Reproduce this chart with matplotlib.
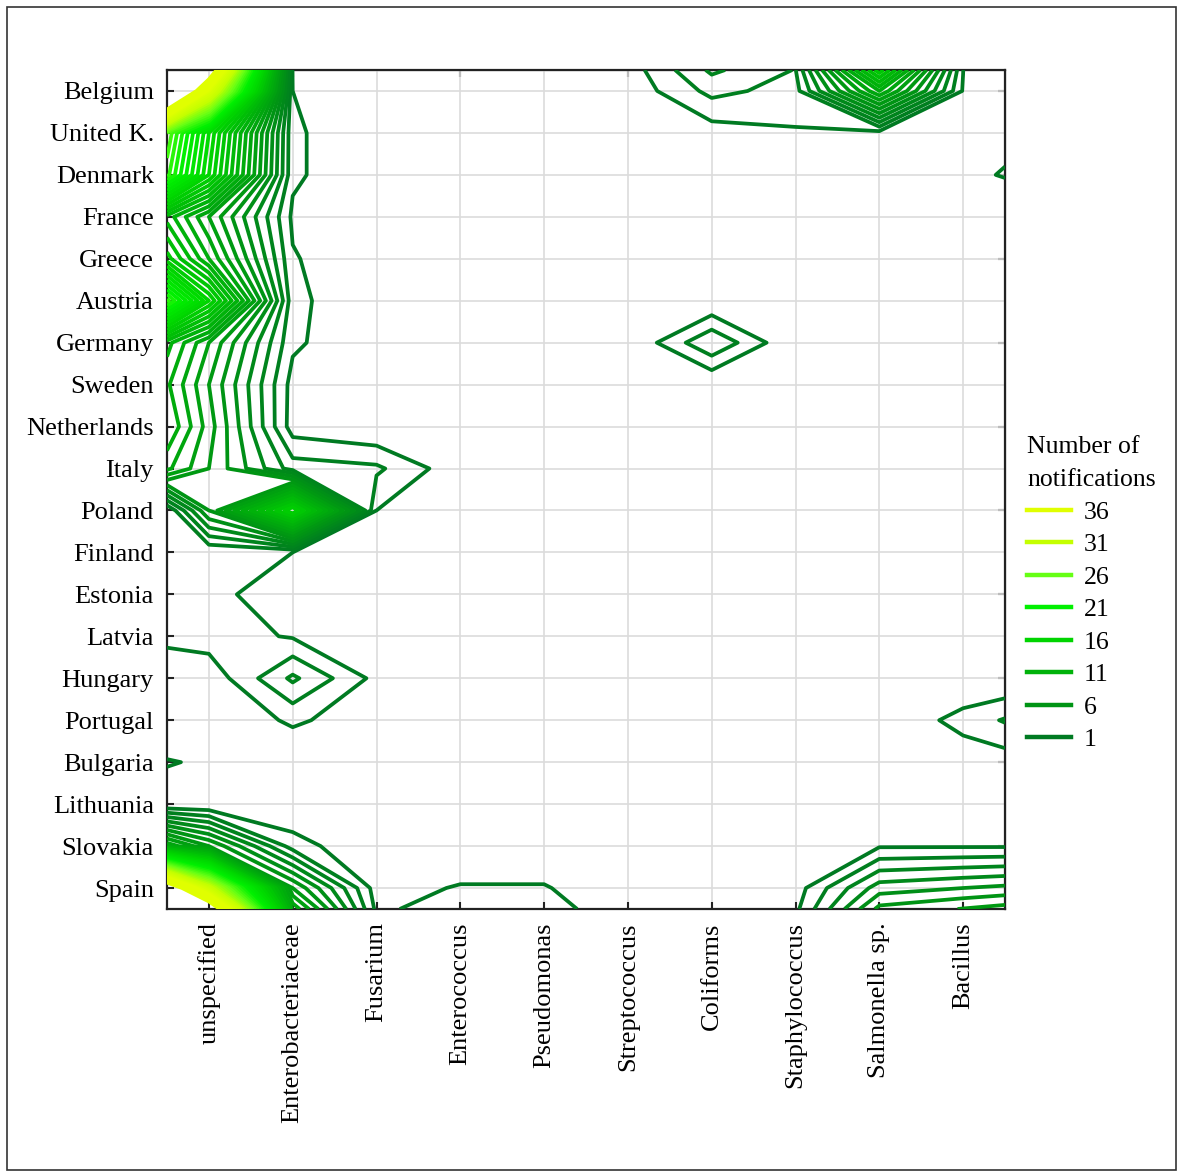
import numpy as np
import matplotlib.pyplot as plt
from matplotlib.colors import LinearSegmentedColormap, Normalize
from matplotlib.lines import Line2D
from matplotlib.patches import Rectangle

plt.rcParams['font.family'] = ['Liberation Serif', 'DejaVu Serif']

countries = ['Belgium', 'United K.', 'Denmark', 'France', 'Greece', 'Austria',
             'Germany', 'Sweden', 'Netherlands', 'Italy', 'Poland', 'Finland',
             'Estonia', 'Latvia', 'Hungary', 'Portugal', 'Bulgaria', 'Lithuania',
             'Slovakia', 'Spain']
hazards = ['unspecified', 'Enterobacteriaceae', 'Fusarium', 'Enterococcus',
           'Pseudomonas', 'Streptococcus', 'Coliforms', 'Staphylococcus',
           'Salmonella sp.', 'Bacillus']

# number of notifications, one list per hazard, countries in the order above
unspecified = [35, 17, 16, 8, 10, 16, 8, 7, 7.5, 7, 6, 1.1, 1.2, 1.5, 0.3, 0, 0.75, 0, 7, 32]
enterobacteriaceae = [1.0, 1.2, 1.2, 0.8, 1.1, 1.3, 1.2, 0.6, 0.5, 2.5, 16, 1.0, 0.6, 0.9, 3.2, 1.2, 0, 0, 1.5, 7]
fusarium = [0, 0, 0, 0, 0, 0, 0, 0, 0, 2.2, 1.0, 0, 0, 0.2, 0.7, 0.3, 0, 0, 0, 0.5]
enterococcus = [0, 0, 0, 0, 0, 0, 0, 0, 0, 0.3, 0, 0, 0, 0, 0, 0, 0, 0, 0, 1.1]
pseudomonas = [0, 0, 0, 0, 0, 0, 0, 0, 0, 0, 0, 0, 0, 0, 0, 0, 0, 0, 0, 1.1]
streptococcus = [0.3, 0, 0, 0, 0, 0, 0, 0, 0, 0, 0, 0, 0, 0, 0, 0, 0, 0, 0, 0]
coliforms = [2.3, 0.5, 0, 0, 0, 0, 2.9, 0, 0, 0, 0, 0, 0, 0, 0, 0, 0, 0, 0, 0]
staphylococcus = [1.6, 0.9, 0, 0, 0, 0, 0, 0, 0, 0, 0, 0, 0, 0, 0, 0, 0, 0, 0, 0.5]
salmonella = [10, 0.6, 0, 0, 0, 0, 0, 0, 0, 0, 0, 0, 0, 0, 0, 0, 0, 0, 0.9, 4.5]
bacillus = [0.9, 0.65, 0.72, 0, 0, 0, 0, 0, 0, 0, 0, 0, 0, 0, 0, 1.4, 0.3, 0, 0.9, 5]

legend_levels = [36, 31, 26, 21, 16, 11, 6, 1]

Z = np.array([unspecified, enterobacteriaceae, fusarium, enterococcus, pseudomonas,
              streptococcus, coliforms, staphylococcus, salmonella, bacillus]).T


def extend(a, axis):
    # linear extrapolation half a cell beyond the outer categories
    a = np.moveaxis(a, axis, 0)
    first = 1.5 * a[0] - 0.5 * a[1]
    last = 1.5 * a[-1] - 0.5 * a[-2]
    out = np.concatenate([first[None], a, last[None]])
    return np.moveaxis(out, 0, axis)


Zp = extend(extend(Z, 1), 0)
xs = np.concatenate([[0.5], np.arange(1, len(hazards) + 1), [len(hazards) + 0.5]])
ys = np.concatenate([[0.5], np.arange(1, len(countries) + 1), [len(countries) + 0.5]])

cmap = LinearSegmentedColormap.from_list('notif', [
    (0.0, '#007a22'), (5 / 35, '#009414'), (10 / 35, '#00b20a'), (15 / 35, '#00d400'),
    (20 / 35, '#00f000'), (25 / 35, '#66ff14'), (30 / 35, '#c4ff00'), (1.0, '#e0ff00')])
norm = Normalize(1, 36, clip=True)

fig = plt.figure(figsize=(11.78, 11.73), dpi=100)
ax = fig.add_axes([167 / 1178, 1 - 909 / 1173, 838 / 1178, 839 / 1173])

ax.contour(xs, ys, Zp, levels=np.arange(1, 41), cmap=cmap, norm=norm,
           linewidths=2.7, zorder=3)

ax.set_xlim(0.5, len(hazards) + 0.5)
ax.set_ylim(len(countries) + 0.5, 0.5)
ax.set_xticks(np.arange(1, len(hazards) + 1))
ax.set_xticklabels(hazards, rotation=90, fontsize=19)
ax.set_yticks(np.arange(1, len(countries) + 1))
ax.set_yticklabels(countries, fontsize=19)
ax.tick_params(direction='in', length=5, width=1.5, pad=9.5, color='#222222')
ax.grid(True, color='#dcdcdc', linewidth=1.2, zorder=0)
ax.set_axisbelow(True)
for s in ax.spines.values():
    s.set_linewidth(1.6)
    s.set_color('#222222')

top = ax.secondary_xaxis('top')
top.set_xticks(np.arange(2, len(hazards) + 1, 2))
top.set_xticklabels([])
top.tick_params(direction='in', length=5, width=1.5, color='#222222')
right = ax.secondary_yaxis('right')
right.set_yticks(np.arange(1, len(countries) + 1, 2))
right.set_yticklabels([])
right.tick_params(direction='in', length=5, width=1.5, color='#222222')

handles = [Line2D([], [], color=cmap(norm(v)), linewidth=3.2) for v in legend_levels]
leg = fig.legend(handles, [str(v) for v in legend_levels], loc='upper left',
                 bbox_to_anchor=(1004 / 1178, 1 - 413 / 1173), frameon=False,
                 fontsize=18.5, title='Number of\nnotifications', title_fontsize=18.5,
                 alignment='left', handlelength=1.7, labelspacing=0.37,
                 handletextpad=0.5)
leg.get_title().set_linespacing(1.65)

fig.patches.append(Rectangle((7 / 1178, 3 / 1173), 1169 / 1178, 1163 / 1173,
                             transform=fig.transFigure, fill=False,
                             edgecolor='#333333', linewidth=1.2))

fig.savefig('out.png', dpi=100)
